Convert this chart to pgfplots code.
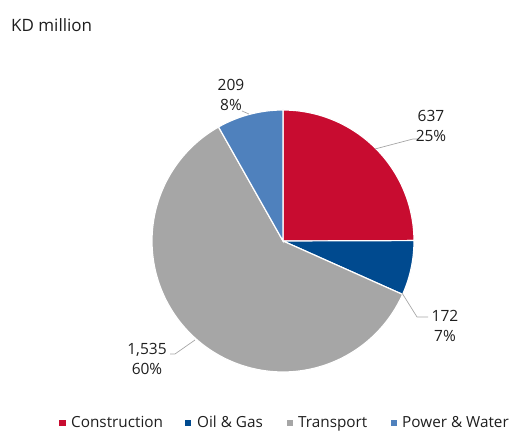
\documentclass[border=0pt]{standalone}
\usepackage{pgfplots}
\pgfplotsset{compat=1.18}
\usepackage{fontspec}
\setmainfont{Open Sans}
\definecolor{cred}{RGB}{200,12,48}
\definecolor{cblue}{RGB}{0,74,143}
\definecolor{cgray}{RGB}{166,166,166}
\definecolor{clblue}{RGB}{79,129,189}
\definecolor{ctext}{RGB}{30,30,30}
\definecolor{cline}{RGB}{166,166,166}
\begin{document}
\begin{tikzpicture}[x=1pt,y=1pt]
% values (KD million)
\def\vA{637}\def\vB{172}\def\vC{1535}\def\vD{209}
\pgfmathsetmacro{\tot}{\vA+\vB+\vC+\vD}
\pgfmathsetmacro{\aA}{90}
\pgfmathsetmacro{\aB}{90-360*(\vA/\tot)}
\pgfmathsetmacro{\aC}{\aB-360*(\vB/\tot)}
\pgfmathsetmacro{\aD}{\aC-360*(\vC/\tot)}
\pgfmathsetmacro{\aE}{\aD-360*(\vD/\tot)}
\begin{axis}[
  scale only axis, width=514pt, height=431pt,
  xmin=0, xmax=514, ymin=0, ymax=431,
  hide axis, clip=false,
]
\path (rel axis cs:0,0) rectangle (rel axis cs:1,1);
\addplot[fill=cred, draw=white, line width=1.2pt, domain=\aA:\aB, samples=80, variable=\t]
  ({283+131*cos(\t)},{190+131*sin(\t)}) -- (axis cs:283,190) -- cycle;
\addplot[fill=cblue, draw=white, line width=1.2pt, domain=\aB:\aC, samples=40, variable=\t]
  ({283+131*cos(\t)},{190+131*sin(\t)}) -- (axis cs:283,190) -- cycle;
\addplot[fill=cgray, draw=white, line width=1.2pt, domain=\aC:\aD, samples=150, variable=\t]
  ({283+131*cos(\t)},{190+131*sin(\t)}) -- (axis cs:283,190) -- cycle;
\addplot[fill=clblue, draw=white, line width=1.2pt, domain=\aD:\aE, samples=40, variable=\t]
  ({283+131*cos(\t)},{190+131*sin(\t)}) -- (axis cs:283,190) -- cycle;
% title
\node[anchor=west, text=ctext, font=\fontsize{17}{19}\selectfont, inner sep=0pt] at (axis cs:11,406) {KD million};
% leader lines
\draw[cline, line width=0.7pt] (axis cs:375,282) -- (axis cs:413,292) -- (axis cs:418,292);
\draw[cline, line width=0.7pt] (axis cs:242,320) -- (axis cs:249,317);
\draw[cline, line width=0.7pt] (axis cs:402,138) -- (axis cs:417,114) -- (axis cs:428,114);
\draw[cline, line width=0.7pt] (axis cs:195,91) -- (axis cs:175,77) -- (axis cs:170,77);
% data labels
\tikzset{dl/.style={text=ctext, font=\fontsize{15.5}{19.5}\selectfont, align=center, inner sep=0pt}}
\node[dl] at (axis cs:431,305) {637\\25\%};
\node[dl] at (axis cs:231,336) {209\\8\%};
\node[dl] at (axis cs:445,105) {172\\7\%};
\node[dl] at (axis cs:147,72) {1,535\\60\%};
% legend
\tikzset{lg/.style={anchor=base west, text=ctext, font=\fontsize{15.3}{18}\selectfont, inner sep=0pt}}
\fill[cred] (axis cs:59,5) rectangle (axis cs:66,11);
\node[lg] at (axis cs:71,3.5) {Construction};
\fill[cblue] (axis cs:185,5) rectangle (axis cs:191,11);
\node[lg] at (axis cs:197,3.5) {Oil \& Gas};
\fill[cgray] (axis cs:287,5) rectangle (axis cs:293,11);
\node[lg] at (axis cs:298,3.5) {Transport};
\fill[clblue] (axis cs:391,5) rectangle (axis cs:397,11);
\node[lg] at (axis cs:402,3.5) {Power \& Water};
\end{axis}
\end{tikzpicture}
\end{document}
